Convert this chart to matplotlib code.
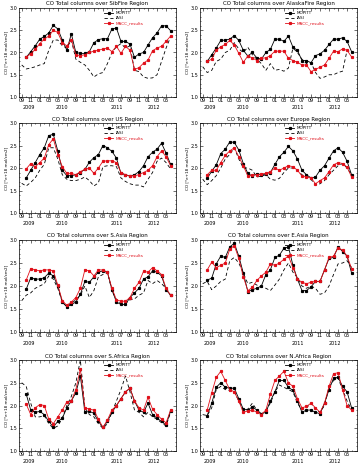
import numpy as np
import matplotlib
matplotlib.use("Agg")
import matplotlib.pyplot as plt
import matplotlib.transforms as mtransforms

# month index: 0 = Sep 2009
months_model = np.arange(1, 34)   # Oct 2009 .. Jun 2012
months_iasi = np.arange(0, 34)    # Sep 2009 .. Jun 2012
tick_months = np.arange(0, 33, 2)
tick_labels = ["09", "11", "01", "03", "05", "07", "09", "11", "01",
               "03", "05", "07", "09", "11", "01", "03", "05"]
years = ["2009", "2010", "2011", "2012"]
year_pos = [1.6, 9.0, 21.0, 29.2]

# SibFire
sib_mopitt = [1.89, 2.02, 2.15, 2.30, 2.36, 2.44, 2.61, 2.53, 2.28, 2.05, 2.42, 2.00, 1.98, 1.98, 2.02, 2.22, 2.29,
              2.31, 2.31, 2.53, 2.55, 2.25, 2.25, 2.19, 1.89, 1.97, 2.00, 2.17, 2.33, 2.44, 2.60, 2.60, 2.49]
sib_macc = [1.90, 1.97, 2.07, 2.20, 2.30, 2.37, 2.50, 2.45, 2.22, 2.15, 2.28, 1.95, 1.93, 1.95, 2.00, 2.03, 2.05,
            2.08, 2.10, 2.02, 2.14, 1.98, 2.14, 2.05, 1.62, 1.66, 1.76, 1.83, 2.04, 2.10, 2.14, 2.25, 2.37]
sib_iasi = [1.72, 1.63, 1.65, 1.68, 1.72, 1.75, 2.05, 2.28, 2.28, 2.15, 2.10, 2.28, 1.85, 1.78, 1.72, 1.60, 1.45,
            1.52, 1.55, 1.75, 2.00, 2.13, 2.20, 2.10, 2.15, 1.60, 1.57, 1.45, 1.42, 1.43, 1.50, 1.80, 2.10, 2.35]

# AlaskaFire
ala_mopitt = [1.80, 1.95, 2.10, 2.27, 2.28, 2.30, 2.38, 2.27, 2.05, 1.92, 2.00, 1.88, 1.85, 2.00, 2.07, 2.30, 2.30,
              2.25, 2.37, 2.12, 2.05, 1.82, 1.82, 1.77, 1.93, 1.97, 2.05, 2.18, 2.30, 2.30, 2.33, 2.25, 2.02]
ala_macc = [1.80, 1.85, 2.05, 2.13, 2.18, 2.27, 2.17, 1.98, 1.78, 1.92, 1.88, 1.82, 1.87, 1.88, 1.93, 2.03, 2.03,
            2.03, 1.87, 1.82, 1.78, 1.72, 1.72, 1.57, 1.62, 1.67, 1.72, 1.87, 2.03, 2.02, 2.08, 2.05, 1.90]
ala_iasi = [1.68, 1.55, 1.60, 1.80, 1.85, 2.00, 2.05, 2.22, 2.08, 2.00, 2.12, 1.95, 1.85, 1.75, 1.60, 1.75, 1.60,
            1.62, 1.58, 1.65, 2.10, 2.00, 1.85, 1.75, 1.78, 1.55, 1.42, 1.45, 1.50, 1.50, 1.55, 1.58, 2.05, 2.00]

# US
us_mopitt = [1.78, 1.95, 2.12, 2.30, 2.45, 2.72, 2.75, 2.38, 1.95, 1.83, 1.83, 1.85, 1.90, 1.97, 2.13, 2.23, 2.30,
             2.50, 2.45, 2.37, 2.22, 1.88, 1.85, 1.82, 1.85, 1.92, 2.05, 2.25, 2.35, 2.42, 2.55, 2.33, 2.08]
us_macc = [1.98, 2.10, 2.03, 2.12, 2.22, 2.52, 2.65, 2.30, 2.03, 1.88, 1.88, 1.85, 1.92, 1.97, 2.00, 1.88, 2.00,
           2.15, 2.16, 2.16, 2.12, 1.90, 1.85, 1.82, 1.83, 1.85, 1.90, 1.95, 2.05, 2.25, 2.38, 2.25, 2.05]
us_iasi = [1.66, 1.60, 1.68, 1.78, 1.95, 2.08, 2.45, 2.45, 2.20, 1.85, 1.75, 1.72, 1.72, 1.75, 1.80, 1.72, 1.60,
           1.67, 2.03, 2.05, 2.05, 2.03, 1.78, 1.70, 1.65, 1.62, 1.62, 1.58, 1.75, 1.90, 2.15, 2.22, 2.12, 1.98]

# Europe
eu_mopitt = [1.77, 1.93, 2.07, 2.32, 2.42, 2.58, 2.57, 2.40, 2.10, 1.88, 1.82, 1.87, 1.85, 1.87, 1.90, 2.08, 2.25,
             2.35, 2.48, 2.38, 2.20, 1.95, 1.85, 1.78, 1.80, 1.95, 2.05, 2.22, 2.38, 2.45, 2.35, 2.15, 1.85]
eu_macc = [1.85, 1.95, 1.95, 2.12, 2.28, 2.38, 2.45, 2.25, 2.05, 1.82, 1.85, 1.85, 1.87, 1.88, 1.92, 2.00, 1.95,
           2.00, 2.05, 2.03, 1.95, 1.82, 1.80, 1.78, 1.65, 1.72, 1.78, 1.92, 2.07, 2.12, 2.10, 2.02, 1.80]
eu_iasi = [1.75, 1.63, 1.72, 1.83, 2.00, 2.20, 2.30, 2.45, 2.20, 2.00, 2.00, 1.95, 1.80, 1.82, 1.85, 1.75, 1.73,
           1.77, 1.90, 2.00, 2.00, 1.95, 1.85, 1.80, 1.75, 1.62, 1.65, 1.72, 1.85, 1.95, 2.05, 2.10, 2.00, 1.85]

# S.Asia
sa_mopitt = [1.93, 2.18, 2.15, 2.15, 2.18, 2.28, 2.22, 2.00, 1.65, 1.55, 1.60, 1.65, 1.82, 2.10, 2.08, 2.20, 2.30,
             2.33, 2.30, 1.92, 1.65, 1.60, 1.60, 1.75, 1.85, 1.95, 2.15, 2.20, 2.33, 2.30, 2.22, 1.92, 1.80]
sa_macc = [2.13, 2.38, 2.35, 2.33, 2.35, 2.35, 2.33, 2.02, 1.68, 1.58, 1.65, 1.75, 1.95, 2.35, 2.33, 2.22, 2.35,
           2.35, 2.30, 1.95, 1.70, 1.67, 1.67, 1.75, 1.95, 2.08, 2.32, 2.30, 2.40, 2.33, 2.25, 1.95, 1.80]
sa_iasi = [1.68, 1.80, 1.85, 1.95, 2.00, 2.05, 2.22, 2.15, 1.95, 1.65, 1.55, 1.62, 1.70, 1.80, 2.00, 1.75, 1.90,
           2.20, 2.25, 2.30, 1.90, 1.70, 1.62, 1.62, 1.70, 1.72, 1.80, 1.85, 2.12, 2.05, 2.12, 2.05, 1.95, 1.80]

# E.Asia
ea_mopitt = [2.13, 2.17, 2.48, 2.65, 2.62, 2.85, 2.93, 2.65, 2.28, 1.88, 1.92, 1.95, 2.00, 2.25, 2.35, 2.62, 2.67,
             2.82, 2.85, 2.45, 2.15, 1.90, 1.90, 1.98, 2.10, 2.10, 2.35, 2.60, 2.62, 2.85, 2.75, 2.65, 2.28]
ea_macc = [2.35, 2.52, 2.40, 2.45, 2.50, 2.80, 2.88, 2.60, 2.20, 1.90, 1.97, 2.12, 2.22, 2.30, 2.48, 2.45, 2.50,
           2.58, 2.65, 2.40, 2.15, 2.08, 2.05, 2.08, 2.10, 2.10, 2.35, 2.62, 2.65, 2.83, 2.78, 2.65, 2.38]
ea_iasi = [2.05, 2.10, 1.92, 2.00, 2.10, 2.15, 2.55, 2.62, 2.50, 2.28, 2.05, 2.08, 2.02, 1.98, 1.95, 1.90, 2.02,
           2.15, 2.35, 2.50, 2.30, 2.18, 2.00, 1.95, 2.00, 1.95, 1.82, 1.85, 2.00, 2.25, 2.48, 2.50, 2.55, 2.40]

# S.Africa
saf_mopitt = [2.25, 1.90, 1.85, 1.87, 1.80, 1.65, 1.53, 1.65, 1.72, 1.95, 2.10, 2.28, 2.65, 1.85, 1.87, 1.83, 1.65,
              1.52, 1.65, 1.85, 2.00, 2.15, 2.30, 2.38, 2.10, 1.90, 1.85, 2.05, 1.80, 1.72, 1.65, 1.57, 1.88]
saf_macc = [2.03, 1.80, 1.95, 2.02, 2.00, 1.70, 1.60, 1.75, 1.90, 2.08, 2.10, 2.35, 2.80, 1.95, 1.92, 1.90, 1.70,
            1.52, 1.68, 1.90, 2.00, 2.15, 2.30, 2.38, 2.10, 1.95, 1.90, 2.18, 1.92, 1.80, 1.70, 1.62, 1.90]
saf_iasi = [2.50, 2.42, 2.05, 1.75, 1.75, 1.78, 1.60, 1.50, 1.55, 1.72, 2.00, 2.20, 2.50, 3.00, 1.95, 1.80, 1.75,
            1.60, 1.50, 1.60, 1.85, 2.10, 2.35, 2.65, 2.30, 1.90, 1.85, 1.75, 1.85, 1.75, 1.70, 1.62, 1.55, 1.85]

# N.Africa
naf_mopitt = [1.78, 2.05, 2.40, 2.50, 2.40, 2.38, 2.38, 2.15, 1.92, 1.90, 1.97, 1.90, 1.82, 1.85, 2.10, 2.30, 2.55,
              2.55, 2.40, 2.33, 2.10, 1.85, 1.90, 1.90, 1.85, 1.82, 2.05, 2.35, 2.60, 2.62, 2.42, 2.30, 1.95]
naf_macc = [1.90, 2.28, 2.62, 2.75, 2.55, 2.35, 2.30, 2.10, 1.85, 1.88, 1.90, 1.85, 1.80, 1.90, 2.25, 2.55, 2.65,
            2.75, 2.50, 2.42, 2.15, 1.95, 1.98, 2.05, 1.95, 1.85, 2.05, 2.42, 2.70, 2.72, 2.35, 2.00, 1.90]
naf_iasi = [1.80, 1.78, 1.95, 2.35, 2.42, 2.35, 2.33, 2.30, 2.10, 1.90, 1.92, 2.05, 1.90, 1.80, 1.90, 2.05, 2.30,
            2.45, 2.40, 2.35, 2.30, 2.05, 1.90, 1.95, 2.05, 1.92, 1.85, 2.00, 2.40, 2.55, 2.60, 2.35, 2.10, 1.90]

regions = [
    ("SibFire", sib_mopitt, sib_iasi, sib_macc),
    ("AlaskaFire", ala_mopitt, ala_iasi, ala_macc),
    ("US", us_mopitt, us_iasi, us_macc),
    ("Europe", eu_mopitt, eu_iasi, eu_macc),
    ("S.Asia", sa_mopitt, sa_iasi, sa_macc),
    ("E.Asia", ea_mopitt, ea_iasi, ea_macc),
    ("S.Africa", saf_mopitt, saf_iasi, saf_macc),
    ("N.Africa", naf_mopitt, naf_iasi, naf_macc),
]

plt.rcParams['font.family'] = ['DejaVu Sans']

fig = plt.figure(figsize=(3.63, 4.69), dpi=100)

# axes boxes in pixels: (left, top, right, bottom)
W, H = 363.0, 469.0
col_x = [(19, 176), (200, 357)]
row_y = [(8, 97), (123, 213), (240, 332), (360, 451)]


def draw_panel(ax, name, mopitt, iasi, macc):
    ax.plot(months_model, mopitt, color="black", lw=0.6, marker="s", ms=1.3, label="MOPITT")
    ax.plot(months_iasi, iasi, color="black", lw=0.6, ls=(0, (4, 3)), label="IASI")
    ax.plot(months_model, macc, color="#e0101a", lw=0.6, marker="s", ms=1.3, label="MACC_results")
    ax.set_xlim(-0.6, 34.2)
    ax.set_ylim(1.0, 3.0)
    ax.set_yticks([1.0, 1.5, 2.0, 2.5, 3.0])
    ax.set_yticklabels(["1.0", "1.5", "2.0", "2.5", "3.0"])
    ax.set_yticks(np.arange(1.0, 3.01, 0.1), minor=True)
    ax.set_xticks(tick_months)
    ax.set_xticklabels(tick_labels)
    ax.set_xticks(np.arange(0, 34, 1), minor=True)
    ax.tick_params(which="both", direction="in", top=True, right=True, width=0.4, labelsize=3.5, pad=1)
    ax.tick_params(which="major", length=2.2)
    ax.tick_params(which="minor", length=1.0)
    for sp in ax.spines.values():
        sp.set_linewidth(0.5)
    ax.set_title("CO Total columns over " + name + " Region", fontsize=4, pad=1.8)
    ax.set_ylabel("CO [*e+18 mol/cm2]", fontsize=3, labelpad=1)
    trans = mtransforms.blended_transform_factory(ax.transData, ax.transAxes)
    for yr, xp in zip(years, year_pos):
        ax.text(xp, -0.12, yr, transform=trans, ha="center", va="center", fontsize=3.5)
    ax.legend(loc="upper left", bbox_to_anchor=(0.52, 1.0), fontsize=3, frameon=False,
              handlelength=2.2, handletextpad=0.6, labelspacing=0.25, borderpad=0.3,
              labelcolor="linecolor")


for i, (name, mopitt, iasi, macc) in enumerate(regions):
    r, c = divmod(i, 2)
    x0, x1 = col_x[c]
    y0, y1 = row_y[r]
    ax = fig.add_axes([x0 / W, 1 - y1 / H, (x1 - x0) / W, (y1 - y0) / H])
    draw_panel(ax, name, mopitt, iasi, macc)

fig.savefig("out.png", dpi=100)
